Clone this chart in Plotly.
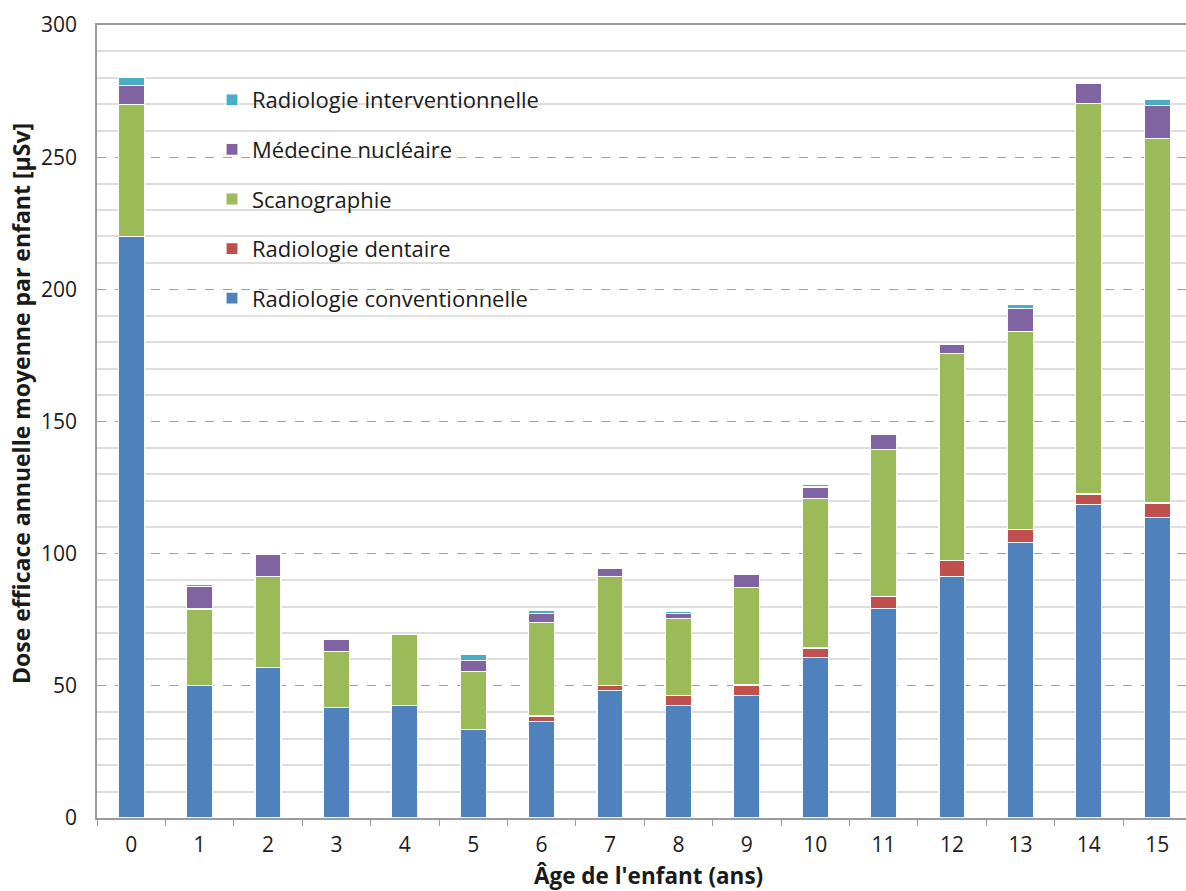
import plotly.graph_objects as go

# Âge de l'enfant (ans)
ages = [str(a) for a in range(16)]

# Dose efficace annuelle moyenne par enfant [µSv], par modalité
radio_conv = [220.0, 50.0, 57.0, 41.7, 42.6, 33.4, 36.6, 48.1, 42.6, 46.4, 60.7, 79.2, 91.3, 104.1, 118.5, 113.7]
radio_dent = [0.0, 0.0, 0.0, 0.0, 0.0, 0.0, 2.0, 2.1, 3.7, 3.9, 3.6, 4.6, 6.1, 5.1, 4.1, 5.5]
scano = [50.0, 29.1, 34.3, 21.2, 26.8, 22.1, 35.4, 41.1, 29.1, 36.9, 56.5, 55.6, 78.4, 74.9, 147.8, 137.8]
med_nucl = [7.0, 8.5, 8.6, 4.5, 0.0, 4.1, 3.4, 3.1, 1.9, 4.8, 4.4, 5.9, 3.5, 8.5, 7.4, 12.4]
radio_interv = [3.0, 0.8, 0.0, 0.0, 0.0, 2.3, 1.3, 0.0, 0.7, 0.0, 1.0, 0.0, 0.0, 1.6, 0.0, 2.3]

series = [
    ("Radiologie conventionnelle", radio_conv, "#4F81BD"),
    ("Radiologie dentaire", radio_dent, "#C0504D"),
    ("Scanographie", scano, "#9BBB59"),
    ("Médecine nucléaire", med_nucl, "#8064A2"),
    ("Radiologie interventionnelle", radio_interv, "#4BACC6"),
]

FONT = "Open Sans"
TXT = "#1a1a1a"

fig = go.Figure()
n = len(series)
for i, (name, vals, color) in enumerate(series):
    fig.add_trace(go.Bar(
        x=ages, y=vals, name=name, legendgroup=name, legendrank=n - i,
        marker=dict(color=color, line=dict(color="rgba(255,255,255,0.95)", width=1.2)),
    ))

# plot-area geometry in pixels (used for the legend panel and title placement)
L, R, T, B = 97, 1186, 25, 818
def px_x(p):
    return (p - L) / (R - L)
def px_y(p):
    return (B - p) / (B - T)

fig.update_layout(
    width=1186, height=891,
    margin=dict(l=L, r=1186 - R, t=T, b=891 - B),
    paper_bgcolor="white", plot_bgcolor="white",
    barmode="stack", bargap=0.62,
    font=dict(family=FONT, size=22, color=TXT),
    showlegend=True,
    legend=dict(
        x=px_x(212), y=px_y(79), xanchor="left", yanchor="top",
        bgcolor="rgba(0,0,0,0)", borderwidth=0,
        traceorder="grouped", tracegroupgap=18,
        font=dict(family=FONT, size=22, color=TXT),
    ),
    shapes=[dict(
        type="rect", xref="paper", yref="paper", layer="between",
        x0=px_x(187), x1=px_x(582), y0=px_y(325), y1=px_y(65),
        fillcolor="white", line=dict(width=0),
    )],
    annotations=[
        dict(
            text="<b>Dose efficace annuelle moyenne par enfant [µSv]</b>",
            xref="paper", yref="paper", x=px_x(21), y=px_y(404),
            xanchor="center", yanchor="middle", textangle=-90, showarrow=False,
            font=dict(family=FONT, size=23, color=TXT),
        ),
        dict(
            text="<b>Âge de l'enfant (ans)</b>",
            xref="paper", yref="paper", x=px_x(648), y=px_y(875),
            xanchor="center", yanchor="middle", showarrow=False,
            font=dict(family=FONT, size=22.5, color=TXT),
        ),
    ],
)

fig.update_xaxes(
    range=[-0.5, -0.5 + (R - L) / 68.4],
    showline=True, linecolor="#9a9a9a", linewidth=1.5, mirror=True,
    ticks="outside", tickson="boundaries", ticklen=6, tickcolor="#9a9a9a", tickwidth=1.2,
    ticklabelstandoff=7,
    tickfont=dict(family=FONT, size=21, color=TXT),
    showgrid=False,
)

fig.update_yaxes(
    range=[0, 300], dtick=50, tick0=0,
    showline=True, linecolor="#9a9a9a", linewidth=1.5,
    showgrid=True, gridcolor="#a0a0a0", griddash="dash", gridwidth=1,
    minor=dict(dtick=10, showgrid=True, gridcolor="#dedede", gridwidth=1.5, griddash="solid"),
    ticks="", ticklabelstandoff=14,
    tickfont=dict(family=FONT, size=21, color=TXT),
    zeroline=False,
)

fig.write_html("out.html")
